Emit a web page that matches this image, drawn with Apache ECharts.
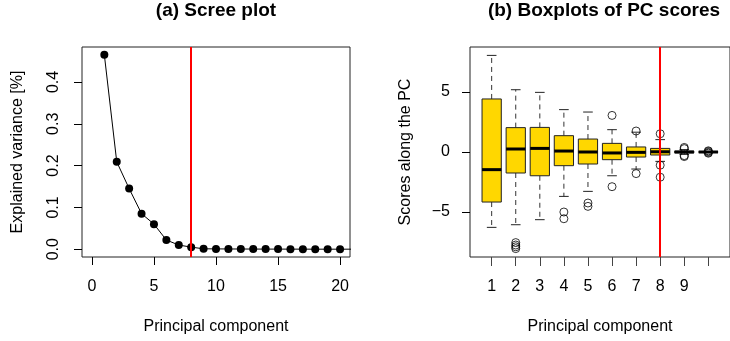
<!DOCTYPE html>
<html>
<head>
<meta charset="utf-8">
<script src="https://cdn.jsdelivr.net/npm/echarts@6/dist/echarts.min.js"></script>
<style>
  html, body { margin: 0; padding: 0; background: #fff; }
  #chart { width: 730px; height: 341px; }
</style>
</head>
<body>
<div id="chart"></div>
<script>
// --- data: scree plot ---
var screePC = [1, 2, 3, 4, 5, 6, 7, 8, 9, 10, 11, 12, 13, 14, 15, 16, 17, 18, 19, 20, 21];
var screeVar = [0.465, 0.209, 0.145, 0.085, 0.060, 0.022, 0.010, 0.005, 0.001, 0.0008, 0.0006,
                0.0005, 0.0004, 0.0003, 0.0003, 0.0002, 0.0002, 0.0001, 0.0001, 0.0001, 0.0001];
var screeTicks = [0, 5, 10, 15, 20];
var varTicks = [0, 0.1, 0.2, 0.3, 0.4];

// --- data: boxplots of PC scores ---
var boxPC = [1, 2, 3, 4, 5, 6, 7, 8, 9, 10];
var boxMin = [-6.28, -6.06, -5.64, -3.70, -3.28, -1.98, -1.42, -0.78, -0.20, -0.05];
var boxQ1 = [-4.17, -1.75, -1.98, -1.14, -1.00, -0.64, -0.42, -0.25, -0.07, -0.02];
var boxMed = [-1.47, 0.25, 0.30, 0.08, 0.00, -0.08, -0.03, 0.02, 0.00, 0.00];
var boxQ3 = [4.42, 2.03, 2.05, 1.36, 1.08, 0.72, 0.42, 0.30, 0.07, 0.02];
var boxMax = [8.05, 5.19, 4.97, 3.53, 3.33, 1.86, 1.65, 1.03, 0.20, 0.05];
var outlierPC = [2, 2, 2, 2, 4, 4, 5, 5, 6, 6, 7, 7, 8, 8, 8, 9, 9, 9, 9, 10, 10, 10, 10];
var outlierVal = [-7.55, -7.75, -7.9, -8.05, -5.0, -5.56, -4.25, -4.53, 3.05, -2.89, 1.75, -1.8,
                  1.52, -1.1, -2.1, 0.38, 0.28, -0.3, -0.38, 0.1, 0.04, -0.04, -0.1];
var scoreTicks = [-5, 0, 5];
var pcTicks = [1, 2, 3, 4, 5, 6, 7, 8, 9, 10];
var pcLabels = [1, 2, 3, 4, 5, 6, 7, 8, 9];
var cutoffPC = 8;

var font = '"Liberation Sans", Arial, sans-serif';
var ink = '#000';
var red = '#ff0000';
var gold = '#FFD700';

var chart = echarts.init(document.getElementById('chart'), null, { renderer: 'canvas' });

var boxData = boxPC.map(function(p, i) {
  return [p, boxMin[i], boxQ1[i], boxMed[i], boxQ3[i], boxMax[i]];
});
var outlierData = outlierPC.map(function(p, i) { return [p, outlierVal[i]]; });
var screeData = screePC.map(function(p, i) { return [p, screeVar[i]]; });

// R-style box: dashed whiskers, half-width staples, gold box, thick median
function renderBox(params, api) {
  var x = api.value(0);
  var pMin = api.coord([x, api.value(1)]);
  var pQ1 = api.coord([x, api.value(2)]);
  var pMed = api.coord([x, api.value(3)]);
  var pQ3 = api.coord([x, api.value(4)]);
  var pMax = api.coord([x, api.value(5)]);
  var w = api.size([0.8, 0])[0];
  var cx = pMed[0];
  var dash = { stroke: '#333', lineWidth: 1, lineDash: [5, 4] };
  var solid = { stroke: '#222', lineWidth: 1 };
  return {
    type: 'group',
    children: [
      { type: 'line', shape: { x1: cx, y1: pQ3[1], x2: cx, y2: pMax[1] }, style: dash },
      { type: 'line', shape: { x1: cx, y1: pQ1[1], x2: cx, y2: pMin[1] }, style: dash },
      { type: 'line', shape: { x1: cx - w / 4, y1: pMax[1], x2: cx + w / 4, y2: pMax[1] }, style: solid },
      { type: 'line', shape: { x1: cx - w / 4, y1: pMin[1], x2: cx + w / 4, y2: pMin[1] }, style: solid },
      { type: 'rect', shape: { x: cx - w / 2, y: pQ3[1], width: w, height: pQ1[1] - pQ3[1] },
        style: { fill: gold, stroke: '#222', lineWidth: 1 } },
      { type: 'line', shape: { x1: cx - w / 2, y1: pMed[1], x2: cx + w / 2, y2: pMed[1] },
        style: { stroke: ink, lineWidth: 3 } }
    ]
  };
}

var tickStyle = { color: ink, fontSize: 16, fontFamily: font };

chart.setOption({
  animation: false,
  title: [
    { text: '(a) Scree plot', left: 216, top: 1, textAlign: 'center', padding: 0,
      textStyle: { fontSize: 19, fontWeight: 'bold', color: ink, fontFamily: font } },
    { text: '(b) Boxplots of PC scores', left: 604, top: 1, textAlign: 'center', padding: 0,
      textStyle: { fontSize: 19, fontWeight: 'bold', color: ink, fontFamily: font } }
  ],
  grid: [
    { left: 82, top: 47, width: 268, height: 210, show: true, borderColor: '#222', borderWidth: 1 },
    { left: 470, top: 47, width: 267, height: 210, show: true, borderColor: '#222', borderWidth: 1 }
  ],
  xAxis: [
    {
      gridIndex: 0, type: 'value', min: -0.8, max: 20.8,
      name: 'Principal component', nameLocation: 'middle', nameGap: 62,
      nameTextStyle: tickStyle,
      axisLine: { show: false, onZero: false },
      axisTick: { show: true, length: 8, customValues: screeTicks, lineStyle: { color: ink } },
      axisLabel: Object.assign({ margin: 22, customValues: screeTicks }, tickStyle),
      splitLine: { show: false }
    },
    {
      gridIndex: 1, type: 'value', min: 0.1, max: 10.9,
      name: 'Principal component', nameLocation: 'middle', nameGap: 62,
      nameTextStyle: tickStyle,
      axisLine: { show: false, onZero: false },
      axisTick: { show: true, length: 9, customValues: pcTicks, lineStyle: { color: '#444' } },
      axisLabel: Object.assign({ margin: 22, customValues: pcLabels }, tickStyle),
      splitLine: { show: false }
    }
  ],
  yAxis: [
    {
      gridIndex: 0, type: 'value', min: -0.0186, max: 0.4836,
      name: 'Explained variance [%]', nameLocation: 'middle', nameGap: 56,
      nameTextStyle: tickStyle,
      axisLine: { show: false, onZero: false },
      axisTick: { show: true, length: 8, customValues: varTicks, lineStyle: { color: ink } },
      axisLabel: Object.assign({ margin: 20, rotate: 90, customValues: varTicks,
        formatter: function(v) { return v.toFixed(1); } }, tickStyle),
      splitLine: { show: false }
    },
    {
      gridIndex: 1, type: 'value', min: -8.75, max: 8.75,
      name: 'Scores along the PC', nameLocation: 'middle', nameGap: 56,
      nameTextStyle: tickStyle,
      axisLine: { show: false, onZero: false },
      axisTick: { show: true, length: 8, customValues: scoreTicks, lineStyle: { color: ink } },
      axisLabel: Object.assign({ margin: 20, customValues: scoreTicks,
        formatter: function(v) { return String(v).replace('-', '\u2212'); } }, tickStyle),
      splitLine: { show: false }
    }
  ],
  series: [
    {
      type: 'line', xAxisIndex: 0, yAxisIndex: 0, data: screeData, clip: true,
      symbol: 'circle', symbolSize: 8, showSymbol: true,
      itemStyle: { color: ink }, lineStyle: { color: ink, width: 1 },
      markLine: {
        silent: true, symbol: 'none', label: { show: false },
        lineStyle: { color: red, width: 2, type: 'solid' },
        data: [{ xAxis: cutoffPC }]
      },
      z: 3
    },
    {
      type: 'custom', xAxisIndex: 1, yAxisIndex: 1, data: boxData,
      renderItem: renderBox, encode: { x: 0, y: [1, 2, 3, 4, 5] }, z: 2
    },
    {
      type: 'scatter', xAxisIndex: 1, yAxisIndex: 1, data: outlierData,
      symbol: 'circle', symbolSize: 8,
      itemStyle: { color: 'rgba(0,0,0,0)', borderColor: ink, borderWidth: 1 },
      markLine: {
        silent: true, symbol: 'none', label: { show: false },
        lineStyle: { color: red, width: 2, type: 'solid' },
        data: [{ xAxis: cutoffPC }]
      },
      z: 4
    }
  ]
});

window.addEventListener('resize', function() { chart.resize(); });
</script>
</body>
</html>
